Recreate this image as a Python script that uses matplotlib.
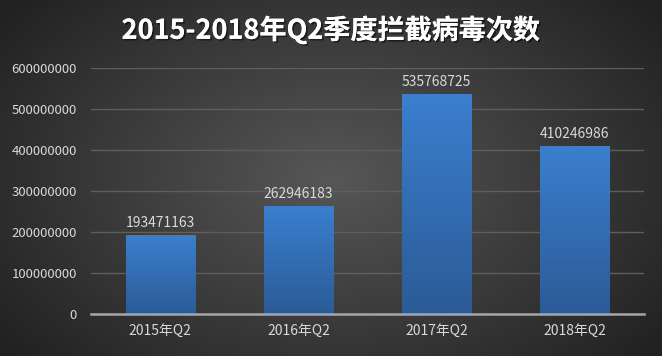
import numpy as np
import matplotlib.pyplot as plt
import matplotlib.patheffects as pe

plt.rcParams['font.family'] = ['Noto Sans CJK SC', 'DejaVu Sans']

categories = ['2015年Q2', '2016年Q2', '2017年Q2', '2018年Q2']
values = [193471163, 262946183, 535768725, 410246986]
yticks = [0, 100000000, 200000000, 300000000, 400000000, 500000000, 600000000]

fig = plt.figure(figsize=(6.62, 3.56), dpi=100)

# radial background
bg = fig.add_axes([0, 0, 1, 1])
yy, xx = np.mgrid[0:356, 0:662]
r = np.sqrt(((xx - 331) / 400.0) ** 2 + ((yy - 178) / 260.0) ** 2)
shade = np.clip(0.34 - 0.2 * r, 0.13, 0.34)
bg.imshow(np.dstack([shade] * 3), extent=[0, 1, 0, 1], aspect='auto')
bg.axis('off')

ax = fig.add_axes([91 / 662, 1 - 314 / 356, (644 - 91) / 662, (314 - 68) / 356])
ax.patch.set_alpha(0)
x = np.arange(len(categories))
bars = ax.bar(x, values, width=0.5, color='none', zorder=2)

grad = np.linspace(0, 1, 256).reshape(-1, 1)
top = np.array([0x3b, 0x7f, 0xcf]) / 255
bot = np.array([0x2b, 0x5b, 0x96]) / 255
img = top * (1 - grad[..., None]) + bot * grad[..., None]
img = img.reshape(256, 1, 3)
for b in bars:
    x0, w, h = b.get_x(), b.get_width(), b.get_height()
    im = ax.imshow(img, extent=[x0, x0 + w, 0, h], aspect='auto', zorder=2)
    im.set_clip_path(b)
    ax.text(x0 + w / 2, h + 12000000, str(int(h)), ha='center', va='bottom',
            color='#d9d9d9', fontsize=10)

ax.set_xlim(-0.5, 3.5)
ax.set_ylim(0, 600000000)
ax.set_xticks(x)
ax.set_xticklabels(categories)
ax.set_yticks(yticks)
ax.set_yticklabels([str(v) for v in yticks])
ax.tick_params(colors='#d9d9d9', labelsize=9.5, length=0)
ax.tick_params(axis='x', labelsize=10, pad=7)
ax.tick_params(axis='y', pad=10)
ax.yaxis.grid(True, color='#5e5e5e', linewidth=1, zorder=0)
ax.set_axisbelow(True)
for s in ['top', 'right', 'left']:
    ax.spines[s].set_visible(False)
ax.spines['bottom'].set_color('#a6a6a6')
ax.spines['bottom'].set_linewidth(1.8)
ax.spines['bottom'].set_zorder(3)

fig.text(0.5, 1 - 30 / 356, '2015-2018年Q2季度拦截病毒次数', ha='center', va='center',
         color='white', fontsize=19.5, fontweight='bold',
         path_effects=[pe.withSimplePatchShadow(offset=(1.2, -1.2), shadow_rgbFace='black', alpha=0.5),
                       pe.Normal()])

fig.savefig('out.png', dpi=100)
